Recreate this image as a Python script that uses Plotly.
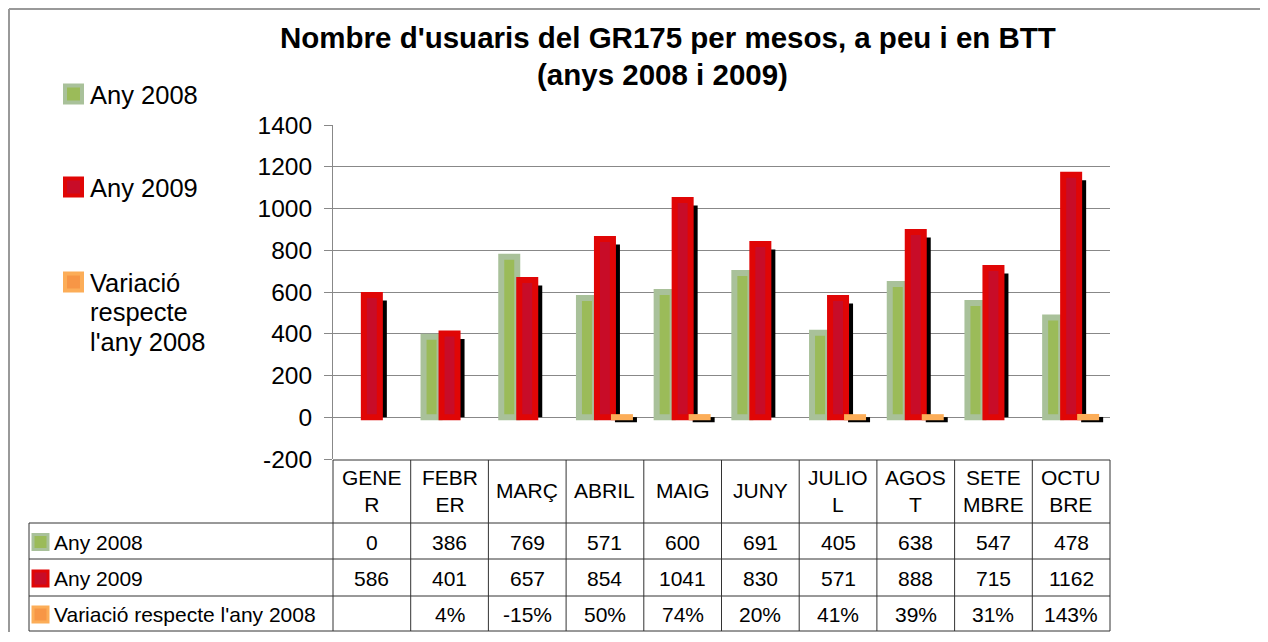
import plotly.graph_objects as go

# ---------------- data ----------------
months = ["GENER", "FEBRER", "MARÇ", "ABRIL", "MAIG", "JUNY",
          "JULIOL", "AGOST", "SETEMBRE", "OCTUBRE"]
month_labels = ["GENE<br>R", "FEBR<br>ER", "MARÇ", "ABRIL", "MAIG", "JUNY",
                "JULIO<br>L", "AGOS<br>T", "SETE<br>MBRE", "OCTU<br>BRE"]
any_2008 = [0, 386, 769, 571, 600, 691, 405, 638, 547, 478]
any_2009 = [586, 401, 657, 854, 1041, 830, 571, 888, 715, 1162]
variacio = [None, 0.04, -0.15, 0.50, 0.74, 0.20, 0.41, 0.39, 0.31, 1.43]
series_names = ["Any 2008", "Any 2009", "Variació respecte l'any 2008"]
y_ticks = [-200, 0, 200, 400, 600, 800, 1000, 1200, 1400]
title_lines = ["Nombre d'usuaris del GR175 per mesos, a peu i en BTT",
               "(anys 2008 i 2009)"]

# ---------------- style / layout helpers ----------------
PAGE_W, PAGE_H = 1268, 642
BODY_MARGIN = 8                     # default browser body margin
W, H = PAGE_W - BODY_MARGIN, PAGE_H - 2 * BODY_MARGIN - 2
FONT = "Liberation Sans, Arial, sans-serif"
PLOT_L, PLOT_R, PLOT_T, PLOT_B = 333, 1110, 125, 459   # page pixels
CAT_PX = (PLOT_R - PLOT_L) / len(months)
Y_PX_PER_UNIT = (PLOT_B - PLOT_T) / (y_ticks[-1] - y_ticks[0])


def px(x):  # page pixel x -> paper
    return (x - BODY_MARGIN) / W


def py(y):  # page pixel y -> paper
    return 1 - (y - BODY_MARGIN) / H


def cu(p):  # pixels -> category units
    return p / CAT_PX


def yu(p):  # pixels -> y units
    return p / Y_PX_PER_UNIT


GREEN_LINE, GREEN_FILL = "#a9c19a", "#9bbb59"
RED_LINE, RED_FILL = "#e00606", "#c80c28"
ORANGE_LINE, ORANGE_FILL = "#fcad58", "#f79646"
GRID = "#888888"
TABLE_LINE = "#333333"

fig = go.Figure()

# orange shadows (only where the tiny bar is rendered)
show_var = [v is not None and v >= 0.35 for v in variacio]
fig.add_trace(go.Bar(
    x=months, y=[(v + yu(5)) if s else None for v, s in zip(variacio, show_var)],
    base=-yu(5), offset=cu(10), width=cu(22),
    marker=dict(color="black", line=dict(width=0)),
    showlegend=False, hoverinfo="skip"))

# red shadows
fig.add_trace(go.Bar(
    x=months, y=[v - yu(5.5) for v in any_2009],
    offset=cu(-7), width=cu(22),
    marker=dict(color="black", line=dict(width=0)),
    showlegend=False, hoverinfo="skip"))

# main series
fig.add_trace(go.Bar(
    x=months, y=[v if v else None for v in any_2008], name=series_names[0],
    offset=cu(-26), width=cu(16),
    marker=dict(color=GREEN_FILL, line=dict(color=GREEN_LINE, width=6)),
    showlegend=False))
fig.add_trace(go.Bar(
    x=months, y=any_2009, name=series_names[1],
    offset=cu(-8), width=cu(16),
    marker=dict(color=RED_FILL, line=dict(color=RED_LINE, width=6)),
    showlegend=False))
fig.add_trace(go.Bar(
    x=months, y=variacio, name=series_names[2],
    offset=cu(9), width=cu(16),
    marker=dict(color=[ORANGE_FILL if s else "rgba(0,0,0,0)" for s in show_var],
                line=dict(color=[ORANGE_LINE if s else "rgba(0,0,0,0)" for s in show_var],
                          width=6)),
    showlegend=False))

shapes = []
annotations = []

# outer frame (only left and top edges are inside the picture)
FRAME = dict(color="#999999", width=2)
shapes.append(dict(type="line", xref="paper", yref="paper", layer="below",
                   x0=px(9), x1=1, y0=py(9), y1=py(9), line=FRAME))
shapes.append(dict(type="line", xref="paper", yref="paper", layer="below",
                   x0=px(9), x1=px(9), y0=py(9), y1=0, line=FRAME))

# title
for t, cx, cy in zip(title_lines, [668, 662], [37, 75]):
    annotations.append(dict(text="<b>%s</b>" % t, xref="paper", yref="paper",
                            x=px(cx), y=py(cy), xanchor="center", yanchor="middle",
                            showarrow=False, font=dict(family=FONT, size=29.5, color="black")))

# left legend
legend_items = [
    (GREEN_LINE, GREEN_FILL, 94, ["Any 2008"]),
    (RED_LINE, RED_FILL, 187, ["Any 2009"]),
    (ORANGE_LINE, ORANGE_FILL, 282, ["Variació", "respecte", "l'any 2008"]),
]
for lc, fc, cy, lines in legend_items:
    shapes.append(dict(type="rect", xref="paper", yref="paper",
                       x0=px(65), x1=px(82), y0=py(cy + 8.5), y1=py(cy - 8.5),
                       fillcolor=fc, line=dict(color=lc, width=4)))
    for k, ln in enumerate(lines):
        annotations.append(dict(text=ln, xref="paper", yref="paper",
                                x=px(88), y=py(cy + 1 + k * 29.5),
                                xanchor="left", yanchor="middle", showarrow=False,
                                font=dict(family=FONT, size=25.5, color="black")))

# data table
TBL_L = 29
ROW_Y = [460, 523, 559, 596, 631]


def xb(i):
    return px(PLOT_L + i * CAT_PX)


for i in range(len(months) + 1):
    shapes.append(dict(type="line", xref="paper", yref="paper",
                       x0=xb(i), x1=xb(i), y0=py(ROW_Y[0]), y1=py(ROW_Y[-1]),
                       line=dict(color=TABLE_LINE, width=1)))
shapes.append(dict(type="line", xref="paper", yref="paper",
                   x0=px(TBL_L), x1=px(TBL_L), y0=py(ROW_Y[1]), y1=py(ROW_Y[-1]),
                   line=dict(color=TABLE_LINE, width=1)))
for j, ry in enumerate(ROW_Y):
    shapes.append(dict(type="line", xref="paper", yref="paper",
                       x0=px(PLOT_L if j == 0 else TBL_L), x1=px(PLOT_R),
                       y0=py(ry), y1=py(ry), line=dict(color=TABLE_LINE, width=1)))

TFONT = dict(family=FONT, size=21, color="black")
hdr_cy = (ROW_Y[0] + ROW_Y[1]) / 2 - 1
for m, lab in zip(months, month_labels):
    annotations.append(dict(text=lab, xref="x", yref="paper", x=m, y=py(hdr_cy),
                            xanchor="center", yanchor="middle", showarrow=False,
                            font=TFONT))

var_text = ["" if v is None else "%d%%" % round(v * 100) for v in variacio]
rows = [
    (GREEN_LINE, GREEN_FILL, [str(v) for v in any_2008]),
    (RED_LINE, RED_FILL, [str(v) for v in any_2009]),
    (ORANGE_LINE, ORANGE_FILL, var_text),
]
for r, (lc, fc, texts) in enumerate(rows):
    cy = (ROW_Y[r + 1] + ROW_Y[r + 2]) / 2 + 1
    shapes.append(dict(type="rect", xref="paper", yref="paper",
                       x0=px(33), x1=px(48), y0=py(cy + 7.5), y1=py(cy - 7.5),
                       fillcolor=fc, line=dict(color=lc, width=3)))
    annotations.append(dict(text=series_names[r], xref="paper", yref="paper",
                            x=px(52), y=py(cy), xanchor="left", yanchor="middle",
                            showarrow=False, font=TFONT))
    for m, t in zip(months, texts):
        if t:
            annotations.append(dict(text=t, xref="x", yref="paper", x=m, y=py(cy),
                                    xanchor="center", yanchor="middle",
                                    showarrow=False, font=TFONT))

fig.update_layout(
    width=W, height=H,
    margin=dict(l=0, r=0, t=0, b=0, pad=0, autoexpand=False),
    paper_bgcolor="white", plot_bgcolor="white",
    barmode="overlay", showlegend=False,
    xaxis=dict(domain=[px(PLOT_L), px(PLOT_R)], type="category",
               categoryorder="array", categoryarray=months,
               range=[-0.5, len(months) - 0.5], automargin=False,
               showticklabels=False, showgrid=False, zeroline=False,
               showline=False, ticks=""),
    yaxis=dict(domain=[py(PLOT_B), py(PLOT_T)], range=[y_ticks[0], y_ticks[-1]],
               tickvals=y_ticks, ticktext=[str(v) for v in y_ticks],
               automargin=False,
               showgrid=True, gridcolor=GRID, gridwidth=1,
               zeroline=True, zerolinecolor=GRID, zerolinewidth=1,
               showline=True, linecolor=GRID, linewidth=1,
               ticks="outside", ticklen=8, tickcolor=GRID,
               ticklabelstandoff=7,
               tickfont=dict(family=FONT, size=24.5, color="black")),
    shapes=shapes, annotations=annotations,
    font=dict(family=FONT),
)

fig.write_html("out.html")
